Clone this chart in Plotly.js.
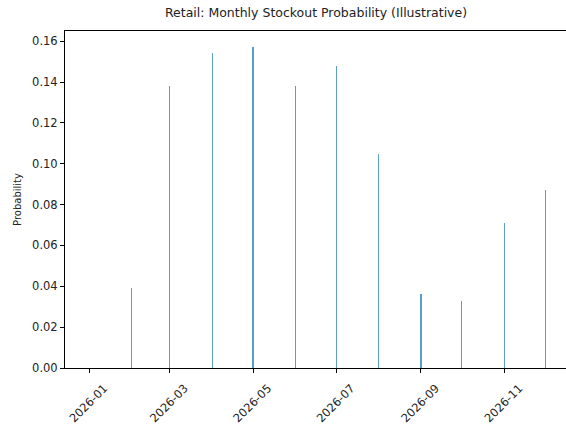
<!DOCTYPE html>
<html>
<head>
<meta charset="utf-8">
<script src="https://cdn.plot.ly/plotly-3.0.1.min.js"></script>
<style>html,body{margin:0;padding:0;background:#fff;overflow:hidden}</style>
</head>
<body>
<div id="chart" style="width:566px;height:425px"></div>
<script>
const months = ["2026-01-01","2026-02-01","2026-03-01","2026-04-01","2026-05-01","2026-06-01",
                "2026-07-01","2026-08-01","2026-09-01","2026-10-01","2026-11-01","2026-12-01"];
const probability = [0.0, 0.039, 0.138, 0.154, 0.157, 0.138, 0.148, 0.105, 0.036, 0.033, 0.071, 0.087];
const yTicks = [0, 0.02, 0.04, 0.06, 0.08, 0.10, 0.12, 0.14, 0.16];
const xTicks = ["2026-01-01","2026-03-01","2026-05-01","2026-07-01","2026-09-01","2026-11-01"];
const xTickLabels = ["2026-01","2026-03","2026-05","2026-07","2026-09","2026-11"];

const DAY = 86400000;
const trace = {
  type: "bar",
  x: months,
  y: probability,
  width: months.map(() => 0.8 * DAY),
  marker: {color: "rgba(31,119,180,0.72)", line: {width: 0}},
  hoverinfo: "x+y"
};

const layout = {
  width: 566, height: 425,
  margin: {l: 65, r: 0, t: 31, b: 57},
  paper_bgcolor: "#fff", plot_bgcolor: "#fff",
  font: {family: "DejaVu Sans, sans-serif", size: 11.5, color: "#222"},
  title: {text: "Retail: Monthly Stockout Probability (Illustrative)", font: {size: 12.5, color: "#222"},
          x: 316/566, xanchor: "center", y: 1 - 13/425, yanchor: "middle"},
  showlegend: false,
  bargap: 0,
  xaxis: {
    type: "date",
    range: ["2025-12-14 07:00", "2026-12-16 05:00"],
    tickmode: "array", tickvals: xTicks, ticktext: xTickLabels,
    tickangle: -45, ticks: "outside", ticklen: 4, tickcolor: "#000", tickwidth: 1,
    ticklabelshift: 15, ticklabelstandoff: 4,
    tickfont: {size: 11.5, color: "#222"},
    showline: true, linecolor: "#000", linewidth: 1, mirror: true,
    showgrid: false, zeroline: false
  },
  yaxis: {
    range: [0, 0.165],
    tickmode: "array", tickvals: yTicks, tickformat: ".2f",
    ticks: "outside", ticklen: 4, tickcolor: "#000", tickwidth: 1,
    tickfont: {size: 11.5, color: "#222"},
    showline: true, linecolor: "#000", linewidth: 1, mirror: false,
    showgrid: false, zeroline: false,
    title: {text: "Probability", font: {size: 10, color: "#222"}, standoff: 8}
  }
};

Plotly.newPlot("chart", [trace], layout, {displayModeBar: false, staticPlot: true});
</script>
</body>
</html>
